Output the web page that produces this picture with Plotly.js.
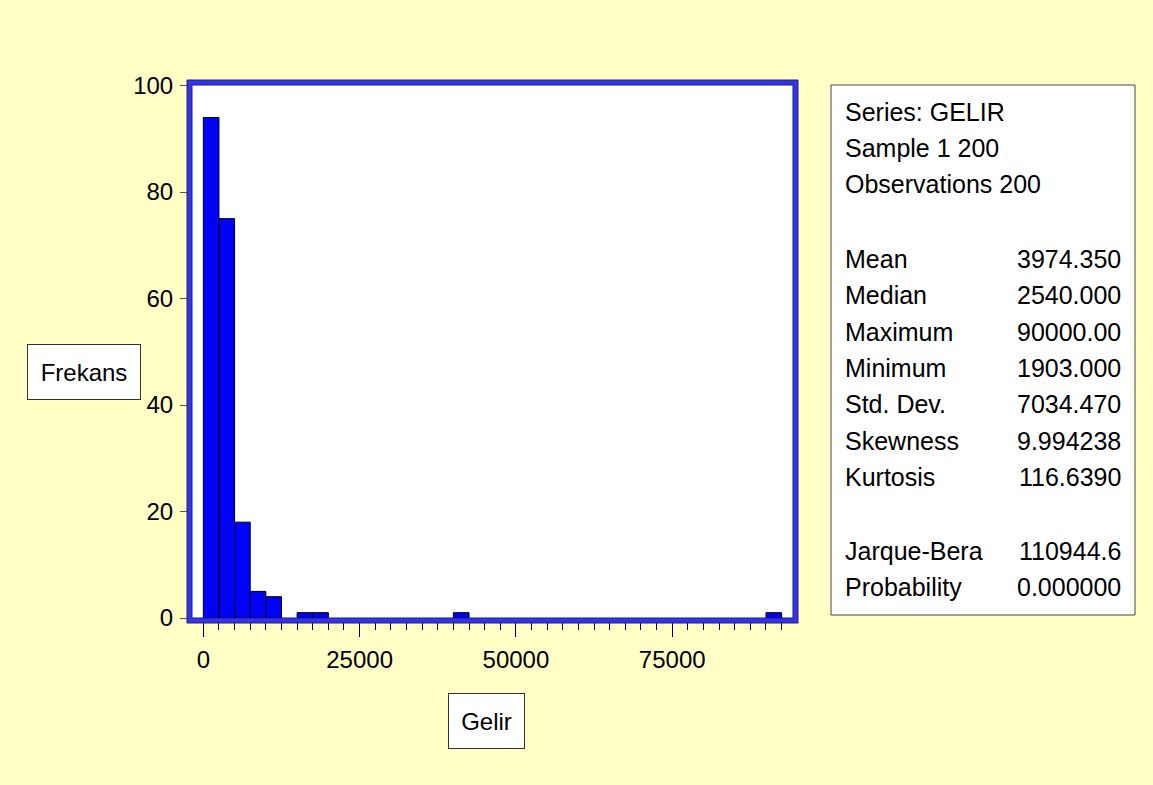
<!DOCTYPE html>
<html>
<head>
<meta charset="utf-8">
<script src="https://cdn.plot.ly/plotly-3.0.1.min.js"></script>
<style>html,body{margin:0;padding:0;background:#FFFFC6;}#chart{width:1153px;height:785px;}</style>
</head>
<body>
<div id="chart"></div>
<script>
// ---- data ----
const binStart = [0, 2500, 5000, 7500, 10000, 15000, 17500, 40000, 90000];
const counts = [94, 75, 18, 5, 4, 1, 1, 1, 1];
const binWidth = 2500;
const xTickVals = [0, 25000, 50000, 75000];
const xTickText = ["0", "25000", "50000", "75000"];
const yTickVals = [0, 20, 40, 60, 80, 100];
const yTickText = ["0", "20", "40", "60", "80", "100"];
const headerLines = ["Series: GELIR", "Sample 1 200", "Observations 200"];
const statNames = ["Mean", "Median", "Maximum", "Minimum", "Std. Dev.", "Skewness", "Kurtosis"];
const statValues = ["3974.350", "2540.000", "90000.00", "1903.000", "7034.470", "9.994238", "116.6390"];
const testNames = ["Jarque-Bera", "Probability"];
const testValues = ["110944.6", "0.000000"];
const xTitle = "Gelir";
const yTitle = "Frekans";

// ---- layout helpers (pixel -> paper) ----
const W = 1153, H = 785;
const L = 192, R = 793, T = 85, B = 618;
const pw = R - L, ph = B - T;
const px = v => (v - L) / pw;
const py = v => (B - v) / ph;
const FONT = '"Liberation Sans", Arial, sans-serif';

const annotations = [];
function txt(text, x, y, anchor, size) {
  annotations.push({text: text, xref: 'paper', yref: 'paper', x: px(x), y: py(y),
    xanchor: anchor, yanchor: 'middle', showarrow: false,
    font: {family: FONT, size: size || 25, color: '#000'}});
}
const lineStep = 36;
headerLines.forEach((t, i) => txt(t, 843, 112 + i * lineStep, 'left'));
statNames.forEach((t, i) => {
  const y = 259 + i * 36.3;
  txt(t, 843, y, 'left');
  txt(statValues[i], 1123, y, 'right');
});
testNames.forEach((t, i) => {
  const y = 551 + i * lineStep;
  txt(t, 843, y, 'left');
  txt(testValues[i], 1123, y, 'right');
});
// axis title boxes
annotations.push({text: yTitle, xref: 'paper', yref: 'paper', x: px(84), y: py(371.5),
  xanchor: 'center', yanchor: 'middle', showarrow: false, width: 110, height: 52,
  bgcolor: '#FFFFFF', bordercolor: '#333333', borderwidth: 1, borderpad: 1,
  font: {family: FONT, size: 24, color: '#000'}});
annotations.push({text: xTitle, xref: 'paper', yref: 'paper', x: px(486.3), y: py(720.8),
  xanchor: 'center', yanchor: 'middle', showarrow: false, width: 73, height: 52,
  bgcolor: '#FFFFFF', bordercolor: '#333333', borderwidth: 1, borderpad: 1,
  font: {family: FONT, size: 24, color: '#000'}});

const shapes = [
  // stats box
  {type: 'rect', xref: 'paper', yref: 'paper', x0: px(831), x1: px(1135), y0: py(615), y1: py(85),
   fillcolor: '#FFFFFF', line: {color: '#444444', width: 1}, layer: 'below'},
  // blue frame
  {type: 'rect', xref: 'paper', yref: 'paper', x0: px(L - 2.5), x1: px(R + 2.5), y0: py(B + 2.5), y1: py(T - 2.5),
   line: {color: '#3333EE', width: 5}, layer: 'above'},
  {type: 'rect', xref: 'paper', yref: 'paper', x0: px(L - 5), x1: px(R + 5), y0: py(B + 5), y1: py(T - 5),
   line: {color: '#222266', width: 1}, layer: 'above'},
  {type: 'rect', xref: 'paper', yref: 'paper', x0: px(L), x1: px(R), y0: py(B), y1: py(T),
   line: {color: '#1a1a99', width: 1}, layer: 'above'}
];

const trace = {
  type: 'bar', x: binStart, y: counts, width: binWidth, offset: 0,
  marker: {color: '#0000FF', line: {color: '#000000', width: 1}},
  hoverinfo: 'none'
};

const layout = {
  width: W, height: H,
  margin: {l: L, r: W - R, t: T, b: H - B, pad: 0},
  paper_bgcolor: '#FFFFC6', plot_bgcolor: '#FFFFFF',
  showlegend: false, bargap: 0,
  font: {family: FONT, size: 24, color: '#000'},
  xaxis: {range: [-1810, 94320], tickmode: 'array', tickvals: xTickVals, ticktext: xTickText,
    ticks: 'outside', ticklen: 18, tickwidth: 1, tickcolor: '#000',
    minor: {dtick: 2500, tick0: 0, ticks: 'outside', ticklen: 11, tickwidth: 1, tickcolor: '#000', showgrid: false},
    showgrid: false, zeroline: false, showline: false, fixedrange: true,
    tickfont: {family: FONT, size: 24, color: '#000'}, ticklabelstandoff: 2},
  yaxis: {range: [0, 100.1], tickmode: 'array', tickvals: yTickVals, ticktext: yTickText,
    ticks: 'outside', ticklen: 11, tickwidth: 1, tickcolor: '#555',
    showgrid: false, zeroline: false, showline: false, fixedrange: true,
    tickfont: {family: FONT, size: 24, color: '#000'}, ticklabelstandoff: 2},
  shapes: shapes,
  annotations: annotations,
  hovermode: false
};

Plotly.newPlot('chart', [trace], layout, {displayModeBar: false, staticPlot: true});
</script>
</body>
</html>
